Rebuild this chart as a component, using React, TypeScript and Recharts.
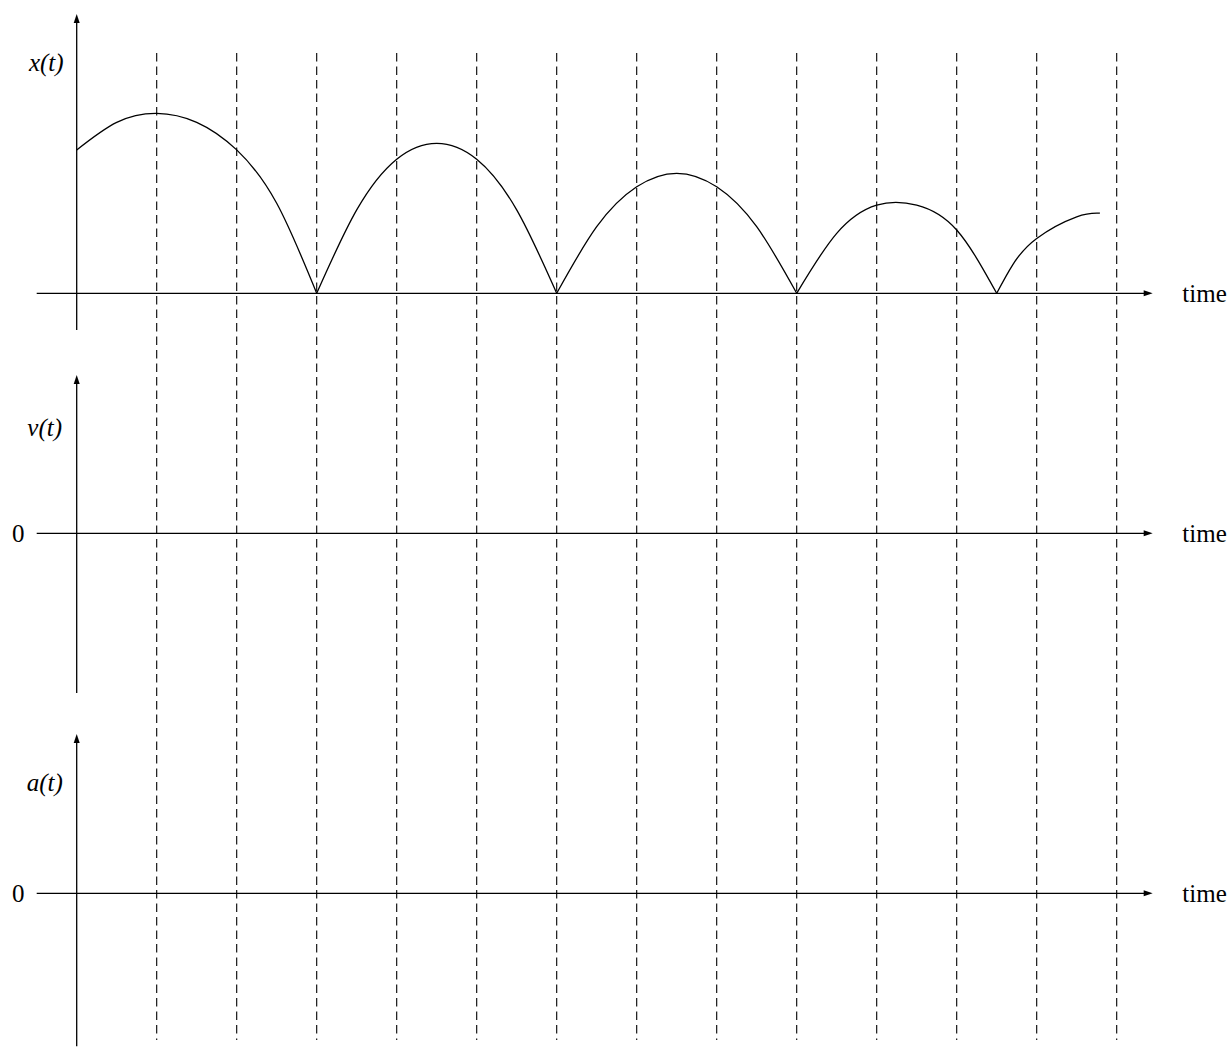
import { ComposedChart, Line, Scatter, XAxis, YAxis, ReferenceLine } from "recharts";

const W = 1231;
const H = 1048;

// x(t) bounce arcs, t in grid steps, v in height units
const arc1 = [
  { t: 0, v: 4.78 }, { t: 0.5, v: 5.7 }, { t: 1, v: 6.0 }, { t: 1.5, v: 5.7 },
  { t: 2, v: 4.78 }, { t: 2.5, v: 3.0 }, { t: 3, v: 0 },
];
const arc2 = [
  { t: 3, v: 0 }, { t: 3.5, v: 2.78 }, { t: 4, v: 4.47 },
  { t: 4.5, v: 5.0 }, { t: 5, v: 4.47 }, { t: 5.5, v: 2.78 }, { t: 6, v: 0 },
];
const arc3 = [
  { t: 6, v: 0 }, { t: 6.5, v: 2.22 }, { t: 7, v: 3.55 },
  { t: 7.5, v: 4.0 }, { t: 8, v: 3.55 }, { t: 8.5, v: 2.22 }, { t: 9, v: 0 },
];
const arc4 = [
  { t: 9, v: 0 }, { t: 9.5, v: 2.0 }, { t: 10, v: 2.94 },
  { t: 10.5, v: 2.94 }, { t: 11, v: 2.11 }, { t: 11.5, v: 0 },
];
const arc5 = [
  { t: 11.5, v: 0 }, { t: 11.7, v: 0.95 }, { t: 12, v: 1.83 }, { t: 12.5, v: 2.55 }, { t: 12.79, v: 2.67 },
];
const arcs = [arc1, arc2, arc3, arc4, arc5];

// dashed time grid
const gridTimes = [1, 2, 3, 4, 5, 6, 7, 8, 9, 10, 11, 12, 13];
const gridTop = 8.01;
const gridBottom = -24.89;

// panel baselines (x, v, a) and axis extents
const baselines = [0, -8, -20];
const hStart = -0.5;
const hEnd = 13.45;
const vAxes = [
  { top: 9.31, bottom: -1.22 },
  { top: -2.72, bottom: -13.32 },
  { top: -14.69, bottom: -25.1 },
];

const arrows = [
  ...vAxes.map((a) => ({ t: 0, v: a.top, dir: "up" })),
  ...baselines.map((b) => ({ t: hEnd, v: b, dir: "right" })),
];

const labels = [
  { t: -0.38, v: 7.68, text: "x(t)", italic: true, anchor: "middle" },
  { t: -0.4, v: -4.46, text: "v(t)", italic: true, anchor: "middle" },
  { t: -0.4, v: -16.32, text: "a(t)", italic: true, anchor: "middle" },
  { t: -0.73, v: -8, text: "0", italic: false, anchor: "middle" },
  { t: -0.73, v: -20, text: "0", italic: false, anchor: "middle" },
  { t: 13.82, v: 0, text: "time", italic: false, anchor: "start" },
  { t: 13.82, v: -8, text: "time", italic: false, anchor: "start" },
  { t: 13.82, v: -20, text: "time", italic: false, anchor: "start" },
];

const ink = "#000";
const serif = '"Liberation Serif", "DejaVu Serif", serif';

function Arrow(props: any) {
  const { cx, cy, payload } = props;
  if (cx == null || cy == null) return null;
  const pts =
    payload.dir === "up"
      ? `${cx},${cy} ${cx - 3},${cy + 9} ${cx + 3},${cy + 9}`
      : `${cx},${cy} ${cx - 9},${cy - 3} ${cx - 9},${cy + 3}`;
  return <polygon points={pts} fill={ink} />;
}

function LabelText(props: any) {
  const { cx, cy, payload } = props;
  if (cx == null || cy == null) return null;
  return (
    <text
      x={cx}
      y={cy}
      textAnchor={payload.anchor}
      dominantBaseline="central"
      style={{ fontFamily: serif, fontStyle: payload.italic ? "italic" : "normal", fontSize: 25 }}
      fill={ink}
    >
      {payload.text}
    </text>
  );
}

export default function App() {
  return (
    <div style={{ position: "absolute", left: 0, top: 0, width: W, height: H, background: "#fff", fontFamily: serif }}>
      <ComposedChart width={W} height={H} margin={{ top: 0, right: 0, bottom: 0, left: 0 }}>
        <XAxis type="number" dataKey="t" domain={[-0.95875, 14.42875]} hide allowDataOverflow />
        <YAxis type="number" dataKey="v" domain={[-25.1567, 9.7767]} hide allowDataOverflow />

        {gridTimes.map((g) => (
          <ReferenceLine
            key={"g" + g}
            segment={[{ x: g, y: gridTop }, { x: g, y: gridBottom }]}
            stroke={ink}
            strokeWidth={1.1}
            strokeDasharray="8.5 5"
          />
        ))}

        {baselines.map((b) => (
          <ReferenceLine
            key={"h" + b}
            segment={[{ x: hStart, y: b }, { x: hEnd - 0.08, y: b }]}
            stroke={ink}
            strokeWidth={1.3}
          />
        ))}

        {vAxes.map((a, i) => (
          <ReferenceLine
            key={"v" + i}
            segment={[{ x: 0, y: a.top - 0.2 }, { x: 0, y: a.bottom }]}
            stroke={ink}
            strokeWidth={1.3}
          />
        ))}

        {arcs.map((d, i) => (
          <Line
            key={"arc" + i}
            data={d}
            dataKey="v"
            type="natural"
            stroke={ink}
            strokeWidth={1.3}
            dot={false}
            activeDot={false}
            isAnimationActive={false}
          />
        ))}

        <Scatter data={arrows} dataKey="v" shape={<Arrow />} isAnimationActive={false} />
        <Scatter data={labels} dataKey="v" shape={<LabelText />} isAnimationActive={false} />
      </ComposedChart>
    </div>
  );
}
